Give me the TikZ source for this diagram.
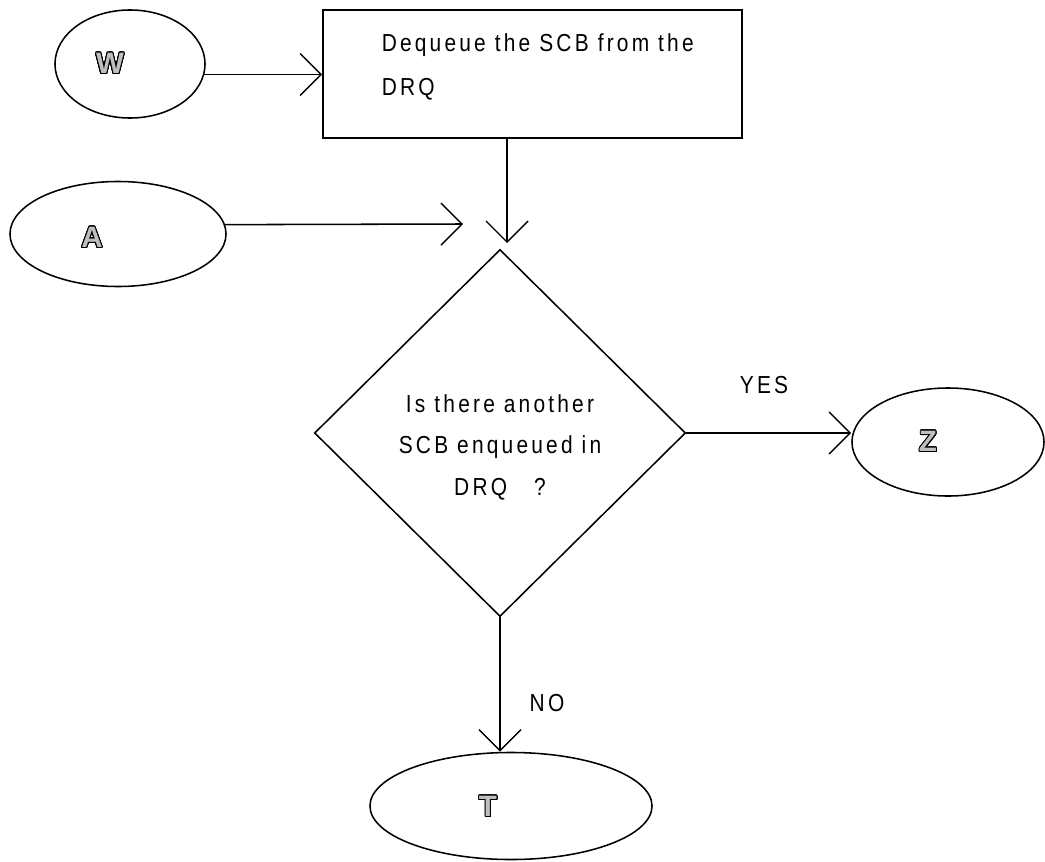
\documentclass[tikz,border=0pt]{standalone}
\usepackage{fontspec}
\usepackage[copies]{contour}
\usetikzlibrary{arrows.meta,shapes.geometric}
\setmainfont{Liberation Sans}
\newfontfamily\chartfont{Liberation Sans}[FakeStretch=0.85,LetterSpace=13]
\contourlength{0.7pt}
\contournumber{24}
\begin{document}
\begin{tikzpicture}[x=0.025cm,y=-0.025cm,
  line width=1.1pt,
  every node/.style={font=\chartfont\fontsize{17.5}{21}\selectfont},
  term/.style={ellipse,draw,inner sep=0pt},
  procbox/.style={rectangle,draw,inner sep=0pt},
  decide/.style={diamond,draw,inner sep=0pt,aspect=1},
  arr/.style={-{Straight Barb[length=5.25mm,width=10.5mm,line width=1pt]}},
  letter/.style={font=\bfseries\fontsize{21}{24}\selectfont}
]
\useasboundingbox (0,0) rectangle (1045,861);

% terminals
\node[term,minimum width=3.75cm,minimum height=2.7cm] (W) at (130,64) {};
\node[letter] (Wl) at (110,64) {\contour{black}{\textcolor{black!25}{W}}};
\node[term,minimum width=5.4cm,minimum height=2.625cm] (A) at (118,234) {};
\node[letter] (Al) at (92,238) {\contour{black}{\textcolor{black!25}{A}}};
\node[term,minimum width=4.8cm,minimum height=2.7cm] (Z) at (948,442) {};
\node[letter] (Zl) at (928,442) {\contour{black}{\textcolor{black!25}{Z}}};
\node[term,minimum width=7.05cm,minimum height=2.675cm] (T) at (511,806) {};
\node[letter] (Tl) at (488,807) {\contour{black}{\textcolor{black!25}{T}}};

% process box
\node[procbox,minimum width=10.475cm,minimum height=3.2cm] (rect) at (532.5,74) {};
\node[anchor=north west,align=left,inner sep=0pt] (rtext) at (381,33)
  {Dequeue the SCB from the\\[0.36cm]DRQ};

% decision
\node[decide,minimum width=9.275cm,minimum height=9.175cm] (dia) at (500,433) {};
\node[align=center] (dtext) at (500,447)
  {Is there another\\[0.3cm]SCB enqueued in\\[0.3cm]DRQ\ \ \ ?};

% branch labels
\node (yes) at (764,385) {YES};
\node (no) at (547,703) {NO};

% connectors
\coordinate (merge) at (507,243);
\coordinate (aend) at (463,224);
\draw[arr] (W.-8.5) -- (W.-8.5 -| rect.west);
\draw[arr] (A.5.4) -- (aend);
\draw[arr] (rect.south -| merge) -- (merge);
\draw[arr] (dia.east) -- (dia.east -| Z.west);
\draw[arr] (dia.south) -- (dia.south |- T.north);
\end{tikzpicture}
\end{document}
